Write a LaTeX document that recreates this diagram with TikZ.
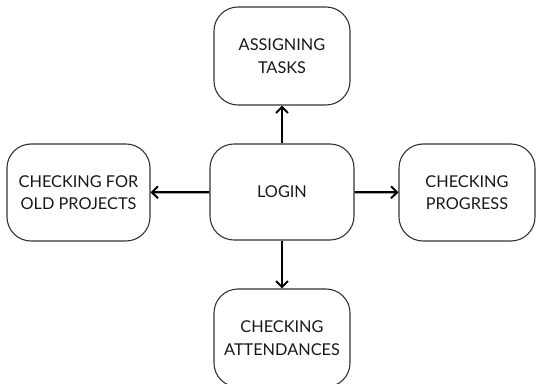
\documentclass[tikz,border=0pt]{standalone}
\usepackage{fontspec}
\setmainfont{Lato}
\usetikzlibrary{arrows.meta}
\begin{document}
\begin{tikzpicture}[x=1pt,y=1pt,
  box/.style={draw=black!80, line width=1.1pt, rounded corners=24pt, align=center,
    inner sep=0pt, font=\fontsize{16.3}{22.5}\selectfont, text=black!90},
  conn/.style={line width=2.2pt, -{Straight Barb[length=6pt,width=12pt,line width=2pt]}}]
\useasboundingbox (0,0) rectangle (537,383);
\fill[white] (0,0) rectangle (537,383);
\node[box, minimum width=136pt, minimum height=98pt] (top) at (282,327) {ASSIGNING\\TASKS};
\node[box, minimum width=144pt, minimum height=96pt] (login) at (282,191) {LOGIN};
\node[box, minimum width=143pt, minimum height=97pt] (left) at (78.5,190.5) {CHECKING FOR\\OLD PROJECTS};
\node[box, minimum width=136pt, minimum height=97pt] (right) at (467,190.5) {CHECKING\\PROGRESS};
\node[box, minimum width=136pt, minimum height=98pt] (bottom) at (282,45) {CHECKING\\ATTENDANCES};
\draw[conn] (login) -- (top);
\draw[conn] (login) -- (left);
\draw[conn] (login) -- (right);
\draw[conn] (login) -- (bottom);
\end{tikzpicture}
\end{document}
